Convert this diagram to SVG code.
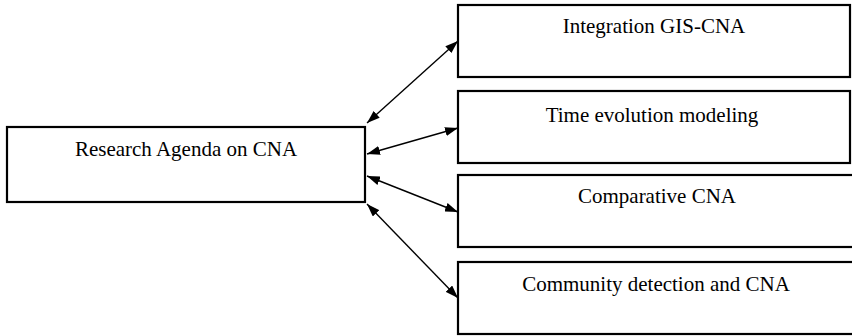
<svg xmlns="http://www.w3.org/2000/svg" width="852" height="336" viewBox="0 0 852 336">
  <style>
    .box { fill: #fff; stroke: #000; stroke-width: 2.2; }
    .label { font-family: "Liberation Serif", "Times New Roman", serif; font-size: 21px; fill: #000; text-anchor: middle; }
    .link { stroke: #000; stroke-width: 1.4; fill: none; marker-start: url(#head); marker-end: url(#head); }
  </style>
  <defs>
    <marker id="head" viewBox="0 0 13 9" refX="13" refY="4.5" markerWidth="13" markerHeight="9" markerUnits="userSpaceOnUse" orient="auto-start-reverse">
      <path d="M0,0 L13,4.5 L0,9 z" fill="#000"/>
    </marker>
  </defs>

  <rect width="852" height="336" fill="#fff"/>

  <g id="connectors">
    <line class="link" x1="367" y1="123" x2="458" y2="41"/>
    <line class="link" x1="367" y1="154" x2="458" y2="128"/>
    <line class="link" x1="367" y1="176" x2="458" y2="212"/>
    <line class="link" x1="367" y1="204" x2="458" y2="298"/>
  </g>

  <g id="research-agenda">
    <rect class="box" x="7" y="127" width="358" height="75"/>
    <text class="label" x="186" y="156">Research Agenda on CNA</text>
  </g>

  <g id="integration-gis-cna">
    <rect class="box" x="458" y="5" width="392" height="72"/>
    <text class="label" x="654" y="33">Integration GIS-CNA</text>
  </g>

  <g id="time-evolution">
    <rect class="box" x="458" y="91" width="392" height="72"/>
    <text class="label" x="652" y="122">Time evolution modeling</text>
  </g>

  <g id="comparative-cna">
    <rect class="box" x="458" y="175" width="396" height="72"/>
    <text class="label" x="657" y="203">Comparative CNA</text>
  </g>

  <g id="community-detection">
    <rect class="box" x="458" y="262" width="396" height="72"/>
    <text class="label" x="656" y="291">Community detection and CNA</text>
  </g>
</svg>
